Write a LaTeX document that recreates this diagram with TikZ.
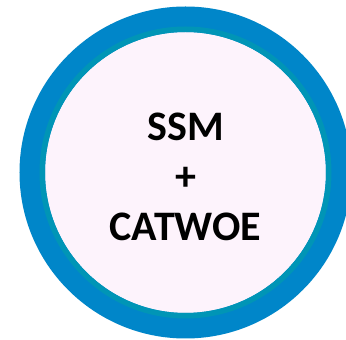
\documentclass[tikz,border=0pt]{standalone}
\usepackage{fontspec}
\setmainfont{Carlito}
\definecolor{ringblue}{HTML}{0086C9}
\definecolor{ringteal}{HTML}{0095B6}
\definecolor{discfill}{HTML}{FDF3FC}
\tikzset{
  ringdisc/.style={circle, inner sep=0pt, outer sep=0pt, minimum size=306.5pt,
    fill=discfill, draw=ringblue, line width=25.5pt},
  label text/.style={align=center, text=black,
    font=\fontsize{42}{50}\selectfont\bfseries}
}
\begin{document}
\begin{tikzpicture}[x=1pt, y=1pt]
  \clip (0,0) rectangle (346,340);
  \fill[white] (0,0) rectangle (346,340);
  % blue ring with pale filling
  \node (disc) [ringdisc] at (185.5,167.5) {};
  % teal band along the inner edge of the ring
  \draw[ringteal, line width=5.5pt] (disc.center) circle (143.25);
  % centred title
  \node (title) [label text] at (185.5,163) {SSM\\+\\CATWOE};
\end{tikzpicture}
\end{document}
